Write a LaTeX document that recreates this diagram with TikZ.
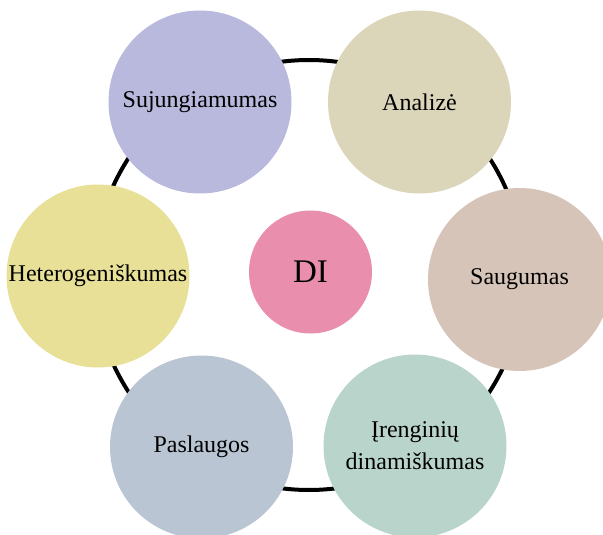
\documentclass[tikz,border=0pt]{standalone}
\usepackage{fontspec}
\setmainfont{Liberation Serif}
\definecolor{cSuj}{HTML}{B8B9DC}
\definecolor{cAna}{HTML}{DBD5B9}
\definecolor{cSau}{HTML}{D7C4B8}
\definecolor{cHet}{HTML}{E7E096}
\definecolor{cPas}{HTML}{B9C5D3}
\definecolor{cIre}{HTML}{B9D5CB}
\definecolor{cDI}{HTML}{E98FAD}
\tikzset{
  bubble/.style={circle, draw=none, minimum size=183pt, inner sep=0pt,
    align=center, font=\fontsize{24}{32}\selectfont},
  hub/.style={circle, draw=none, minimum size=123pt, inner sep=0pt,
    font=\fontsize{33}{36}\selectfont},
  ring/.style={line width=4pt, draw=black}
}
\begin{document}
\begin{tikzpicture}[x=1pt,y=-1pt]
  \useasboundingbox (0,0) rectangle (603,535);
  % ring behind the bubbles
  \coordinate (ctr) at (309,275);
  \draw[ring] (ctr) circle[radius=215];
  % outer bubbles
  \node[bubble, fill=cSuj] (suj) at (200,102) {Sujungiamumas};
  \node[bubble, fill=cAna] (ana) at (419.5,102) {Analizė};
  \node[bubble, fill=cSau] (sau) at (519.5,279.5) {Saugumas};
  \node[bubble, fill=cHet] (het) at (98,276) {Heterogeniškumas};
  \node[bubble, fill=cPas] (pas) at (201.5,447) {Paslaugos};
  \node[bubble, fill=cIre] (ire) at (415,446) {Įrenginių\\dinamiškumas};
  % centre bubble
  \node[hub, fill=cDI] (di) at (310.5,272) {DI};
\end{tikzpicture}
\end{document}
